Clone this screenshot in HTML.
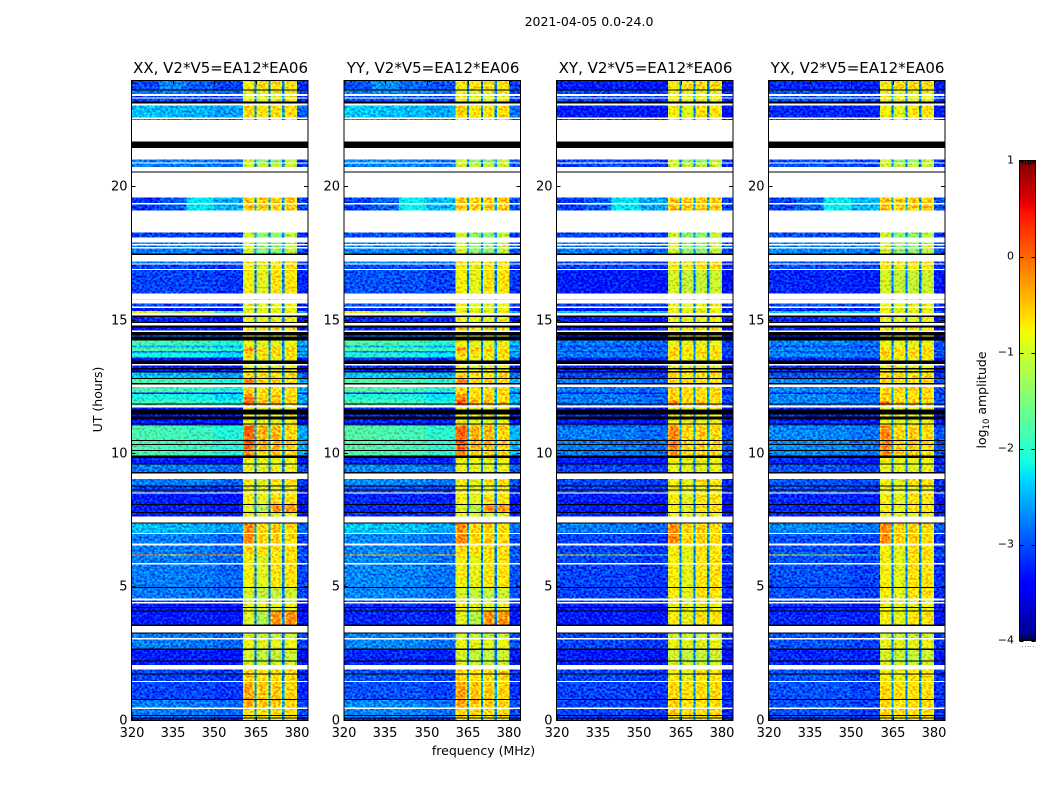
<!DOCTYPE html>
<html>
<head>
<meta charset="utf-8">
<title>2021-04-05 0.0-24.0</title>
<style>
html,body{margin:0;padding:0;background:#fff;}
svg{display:block;font-family:"DejaVu Sans","Liberation Sans",sans-serif;fill:#000;}
</style>
</head>
<body>
<svg id="chart" xmlns="http://www.w3.org/2000/svg" width="1050" height="800" viewBox="0 0 1050 800">
<defs>
<filter id="speckle" filterUnits="userSpaceOnUse" x="120" y="70" width="840" height="660" color-interpolation-filters="sRGB">
<feTurbulence type="fractalNoise" baseFrequency="0.38 0.46" numOctaves="1" seed="7" result="n"/>
<feColorMatrix in="n" type="matrix" values="0 0 0 0 0.5  3 0 0 0 -1  1.4 0 0 0 -0.2  0 0 0 0 1" result="m"/>
<feComposite in="SourceGraphic" in2="m" operator="arithmetic" k1="0" k2="1" k3="0.5" k4="-0.25" result="a"/>
<feComposite in="a" in2="SourceAlpha" operator="in"/>
</filter>
</defs>
<rect x="0" y="0" width="1050" height="800" fill="#fff"/>
<text x="589" y="26" font-size="12.5" text-anchor="middle">2021-04-05 0.0-24.0</text>
<text x="483.5" y="755" font-size="12.5" text-anchor="middle">frequency (MHz)</text>
<text transform="translate(102,399.5) rotate(-90)" font-size="12.5" text-anchor="middle">UT (hours)</text>
<text transform="translate(986,400) rotate(-90)" font-size="12.5" text-anchor="middle">log<tspan font-size="8.5" dy="3">10</tspan><tspan dy="-3"> amplitude</tspan></text>
<g id="panels"></g>
<g id="colorbar"></g>
</svg>
<script>
// ---------- data ----------
const panelNames = ['XX', 'YY', 'XY', 'YX'];
const panelBaseline = 'V2*V5=EA12*EA06';
const freqTicks = [320, 335, 350, 365, 380];
const utTicks = [0, 5, 10, 15, 20];
const colorbarTicks = [1, 0, -1, -2, -3, -4];

// frequency columns in MHz: start, end, level group, index inside group
const freqColumns = [
  [320, 330, 'low', 0], [330, 340, 'low', 1], [340, 350, 'low', 2], [350, 360.4, 'low', 3],
  [360.4, 361.2, 'edge', 0], [361.2, 363.9, 'win', 0], [363.9, 364.6, 'edge', 0], [364.6, 365.4, 'gap', 4],
  [365.4, 366.2, 'edge', 1], [366.2, 368.9, 'win', 1], [368.9, 369.6, 'edge', 1], [369.6, 370.4, 'gap', 4],
  [370.4, 371.2, 'edge', 2], [371.2, 373.9, 'win', 2], [373.9, 374.6, 'edge', 2], [374.6, 375.4, 'gap', 4],
  [375.4, 376.2, 'edge', 3], [376.2, 379.2, 'win', 3], [379.2, 380, 'edge', 3], [380, 384, 'low', 4]
];
// window edges sit this much below the window centre
const windowEdgeDrop = 0.22;

// log10 amplitude: 320-330, 330-340, 340-350, 350-360, 380-384
const lowLevels = {
  N: [-3.4, -3.4, -3.4, -3.4, -3.45],
  D: [-3.25, -3.28, -3.25, -3.3, -3.35],
  B: [-3.05, -3.05, -3.05, -3.12, -3.2],
  L: [-2.78, -2.78, -2.8, -2.88, -3.05],
  C: [-2.45, -2.5, -2.52, -2.62, -2.9],
  M: [-3.15, -2.95, -2.25, -2.55, -3.05],
  T: [-3.05, -2.75, -2.95, -3.05, -3.15],
  G: [-1.8, -1.85, -1.9, -2.05, -2.55],
  H: [-2.1, -2.1, -2.15, -2.3, -2.6],
  R: [-0.2, -0.5, -0.2, -0.3, -2.5],
  P: [-0.9, -1.4, -1.1, -1.9, -2.6],
  O: [-0.6, -0.6, -0.6, -0.6, -0.7],
  Q: [-2.2, -2.2, -2.2, -2.2, -2.3],
  S: [-2.4, -2.3, -2.3, -2.4, -3.0]
};

// log10 amplitude: window 1, window 2, window 3, window 4, gaps between windows
const windowLevels = {
  y: [-0.8, -0.85, -0.85, -0.8, -2.8],
  g: [-0.95, -1.05, -1.05, -1.0, -2.85],
  f: [-0.95, -1.35, -1.35, -1.05, -2.7],
  o: [-0.55, -0.62, -0.62, -0.6, -2.7],
  h: [-0.3, -0.48, -0.48, -0.55, -2.6],
  a: [-0.15, -0.55, -0.5, -0.6, -2.6],
  r: [0.08, -0.35, -0.4, -0.55, -2.5],
  s: [-0.9, -1.15, -0.2, -0.2, -2.8],
  b: [-0.45, -0.5, -0.5, -0.5, -2.6],
  n: [-0.75, -0.85, -0.65, -0.65, -2.8],
  t: [-0.72, -0.6, -0.6, -0.6, -2.8]
};

// top UT, bottom UT, low level XX/YY, low level XY/YX, window level XX/YY, window level XY/YX
const timeRows = [
  [24.0, 23.66, 'T', 'D', 't', 't'],
  [23.66, 23.5, 'L', 'B', 'y', 'y'],
  [23.41, 23.36, 'B', 'B', 'y', 'y'],
  [23.33, 23.2, 'B', 'B', 'y', 'y'],
  [23.06, 22.62, 'C', 'D', 'o', 'n'],
  [22.56, 22.52, 'L', 'B', 'y', 'y'],
  [21.04, 20.93, 'L', 'B', 'f', 'f'],
  [20.88, 20.76, 'L', 'B', 'g', 'g'],
  [19.61, 19.41, 'M', 'M', 'b', 'b'],
  [19.35, 19.13, 'M', 'M', 'b', 'b'],
  [18.3, 18.11, 'B', 'B', 'f', 'f'],
  [17.93, 17.86, 'L', 'L', 'f', 'f'],
  [17.81, 17.75, 'L', 'L', 'f', 'f'],
  [17.7, 17.52, 'L', 'L', 'f', 'f'],
  [17.21, 17.13, 'L', 'B', 'o', 'o'],
  [17.1, 16.94, 'B', 'B', 'n', 'n'],
  [16.9, 16.02, 'B', 'D', 'n', 'g'],
  [15.79, 15.76, 'O', 'Q', 'o', 'y'],
  [15.63, 15.53, 'B', 'B', 'y', 'y'],
  [15.46, 15.36, 'D', 'D', 'y', 'y'],
  [15.36, 15.29, 'P', 'S', 'y', 'y'],
  [15.18, 14.94, 'D', 'D', 'y', 'y'],
  [14.81, 14.62, 'D', 'D', 'o', 'o'],
  [14.56, 14.25, 'L', 'D', 'y', 'y'],
  [14.25, 14.06, 'G', 'L', 'y', 'y'],
  [14.06, 13.99, 'C', 'B', 'y', 'y'],
  [13.99, 13.85, 'G', 'L', 'a', 'o'],
  [13.85, 13.8, 'L', 'B', 'o', 'o'],
  [13.8, 13.62, 'H', 'L', 'o', 'o'],
  [13.62, 13.37, 'D', 'D', 'y', 'y'],
  [13.32, 13.05, 'D', 'D', 'y', 'y'],
  [13.05, 12.85, 'C', 'B', 'o', 'o'],
  [12.85, 12.65, 'G', 'L', 'a', 'o'],
  [12.5, 12.3, 'G', 'L', 'o', 'o'],
  [12.3, 12.24, 'D', 'D', 'o', 'o'],
  [12.24, 12.0, 'H', 'L', 'a', 'o'],
  [12.0, 11.81, 'G', 'L', 'r', 'a'],
  [11.74, 11.06, 'D', 'D', 'y', 'y'],
  [11.06, 10.58, 'G', 'L', 'r', 'a'],
  [10.58, 10.16, 'G', 'L', 'r', 'a'],
  [10.16, 9.94, 'G', 'L', 'a', 'a'],
  [9.94, 9.6, 'D', 'D', 'y', 'y'],
  [9.6, 9.31, 'L', 'B', 'y', 'y'],
  [9.05, 8.81, 'L', 'B', 'n', 'n'],
  [8.81, 8.55, 'B', 'B', 'y', 'y'],
  [8.51, 8.1, 'D', 'D', 'n', 'n'],
  [8.1, 7.78, 'D', 'D', 's', 'n'],
  [7.78, 7.65, 'D', 'D', 'y', 'y'],
  [7.4, 7.03, 'C', 'L', 'a', 'a'],
  [6.99, 6.63, 'L', 'B', 'a', 'a'],
  [6.57, 6.22, 'L', 'B', 'o', 'n'],
  [6.22, 6.19, 'R', 'P', 'n', 'n'],
  [6.19, 5.9, 'L', 'B', 'n', 'n'],
  [5.85, 5.0, 'L', 'B', 'n', 'n'],
  [5.0, 4.58, 'L', 'B', 'g', 'n'],
  [4.5, 4.44, 'B', 'B', 'g', 'g'],
  [4.39, 4.1, 'D', 'D', 'y', 'y'],
  [4.1, 3.55, 'D', 'D', 's', 'n'],
  [3.3, 3.1, 'L', 'B', 'g', 'g'],
  [3.03, 2.65, 'L', 'B', 'y', 'y'],
  [2.65, 2.09, 'D', 'D', 'g', 'g'],
  [1.91, 1.49, 'B', 'B', 'o', 'n'],
  [1.45, 0.79, 'B', 'B', 'h', 'o'],
  [0.79, 0.48, 'L', 'B', 'h', 'o'],
  [0.44, 0.09, 'L', 'B', 'o', 'o'],
  [0.09, 0.0, 'D', 'D', 'y', 'y']
];

// flagged integrations drawn black: top UT, bottom UT
const blackRows = [
  [23.67, 23.64], [23.21, 23.14], [21.72, 21.46], [20.59, 20.56], [17.52, 17.46],
  [15.18, 15.13], [14.95, 14.93], [14.81, 14.74], [14.56, 14.43], [14.4, 14.25],
  [13.5, 13.37], [13.21, 13.16], [13.11, 13.05], [12.85, 12.81], [12.65, 12.6],
  [11.89, 11.86], [11.66, 11.48], [11.4, 11.29], [11.14, 11.1], [10.52, 10.48],
  [10.37, 10.33], [10.14, 10.1], [9.94, 9.84], [9.64, 9.6], [9.31, 9.27],
  [8.81, 8.78], [8.66, 8.63], [8.12, 8.1], [7.81, 7.78], [7.42, 7.38],
  [5.0, 4.97], [4.25, 4.22], [4.13, 4.1], [3.6, 3.55], [3.3, 3.26],
  [2.7, 2.65], [2.25, 2.22], [1.77, 1.75], [0.81, 0.79], [0.21, 0.18], [0.12, 0.09]
];

// small per-panel shift of the low band level
const panelLowShift = [0, 0.06, 0, 0.06];
const colorMin = -4;
const colorMax = 1;

// ---------- layout ----------
const NS = 'http://www.w3.org/2000/svg';
const panelLefts = [131.5, 344, 556.5, 768.5];
const panelWidth = 176.5;
const plotTop = 80.5;
const plotBottom = 720.5;
const utMax = 24;
const freqMin = 320;
const freqMax = 384;
const cbLeft = 1019.5, cbRight = 1035.5, cbTop = 160.5, cbBottom = 640.5;

function xScale(panel, f) {
  return panelLefts[panel] + (f - freqMin) / (freqMax - freqMin) * panelWidth;
}
function yScale(ut) {
  return plotBottom - ut / utMax * (plotBottom - plotTop);
}
function cbScale(v) {
  return cbBottom - (v - colorMin) / (colorMax - colorMin) * (cbBottom - cbTop);
}
function interp(stops, t) {
  for (let i = 1; i < stops.length; i++) {
    if (t <= stops[i][0]) {
      const a = stops[i - 1], b = stops[i];
      return a[1] + (b[1] - a[1]) * (t - a[0]) / (b[0] - a[0]);
    }
  }
  return stops[stops.length - 1][1];
}
const jetR = [[0, 0], [0.35, 0], [0.66, 1], [0.89, 1], [1, 0.5]];
const jetG = [[0, 0], [0.125, 0], [0.375, 1], [0.64, 1], [0.91, 0], [1, 0]];
const jetB = [[0, 0.5], [0.11, 1], [0.34, 1], [0.65, 0], [1, 0]];
function jet(v) {
  const t = Math.max(0, Math.min(1, (v - colorMin) / (colorMax - colorMin)));
  const c = s => Math.round(255 * interp(s, t));
  return 'rgb(' + c(jetR) + ',' + c(jetG) + ',' + c(jetB) + ')';
}
function make(tag, attrs, parent) {
  const el = document.createElementNS(NS, tag);
  for (const k in attrs) el.setAttribute(k, attrs[k]);
  parent.appendChild(el);
  return el;
}
function columnLevel(col, low, win) {
  if (col[2] === 'low') return low[col[3]];
  if (col[2] === 'edge') return win[col[3]] - windowEdgeDrop;
  return win[col[3]];
}

// ---------- panels ----------
const panelsRoot = document.getElementById('panels');
panelNames.forEach(function (name, p) {
  const crossHand = p >= 2;
  const g = make('g', {}, panelsRoot);
  
  

  const cells = make('g', { 'shape-rendering': 'crispEdges', filter: 'url(#speckle)' }, g);
  
  

  timeRows.forEach(function (row) {
    const low = lowLevels[crossHand ? row[3] : row[2]];
    const win = windowLevels[crossHand ? row[5] : row[4]];
    freqColumns.forEach(function (col) {
      let v = columnLevel(col, low, win);
      if (col[2] === 'low') v += panelLowShift[p];
      const x0 = xScale(p, col[0]);
      const x1 = xScale(p, col[1]);
      const cell = make('rect', {
        x: x0, y: yScale(row[0]), width: x1 - x0,
        height: Math.max(0.8, yScale(row[1]) - yScale(row[0])), fill: jet(v)
      }, cells);
      
      
    });
  });

  const flagged = make('g', { 'shape-rendering': 'crispEdges' }, g);
  
  
  blackRows.forEach(function (b) {
    const bar = make('rect', {
      x: xScale(p, freqMin), y: yScale(b[0]),
      width: panelWidth, height: Math.max(1, yScale(b[1]) - yScale(b[0])), fill: '#000'
    }, flagged);
    
    
  });

  const left = xScale(p, freqMin), right = xScale(p, freqMax);
  const frame = make('rect', {
    x: left, y: plotTop, width: right - left, height: plotBottom - plotTop,
    fill: 'none', stroke: '#000', 'stroke-width': 1, 'shape-rendering': 'crispEdges'
  }, g);
  
  

  const title = make('text', {
    x: (left + right) / 2 + 0.8, y: 73, 'font-size': 15, 'text-anchor': 'middle'
  }, g);
  title.textContent = name + ', ' + panelBaseline;
  
  

  freqTicks.forEach(function (f) {
    const x = Math.round(xScale(p, f)) + 0.5;
    [[plotBottom, plotBottom - 4], [plotTop, plotTop + 4]].forEach(function (s) {
      const t = make('line', { x1: x, x2: x, y1: s[0], y2: s[1], stroke: '#000', 'stroke-width': 1 }, g);
      
      
    });
    const lab = make('text', { x: x - 0.5, y: 737, 'font-size': 13, 'text-anchor': 'middle' }, g);
    lab.textContent = f;
    
    
  });

  utTicks.forEach(function (u) {
    const y = Math.round(yScale(u)) + 0.5;
    [[left, left + 4], [right, right - 4]].forEach(function (s) {
      const t = make('line', { x1: s[0], x2: s[1], y1: y - 1, y2: y - 1, stroke: '#000', 'stroke-width': 1 }, g);
      
      
    });
    const lab = make('text', { x: left - 4, y: y + 3, 'font-size': 13, 'text-anchor': 'end' }, g);
    lab.textContent = u;
    
    
  });
});

// ---------- colorbar ----------
const cbRoot = document.getElementById('colorbar');
const cbSteps = 240;
for (let i = 0; i < cbSteps; i++) {
  const v0 = colorMin + (colorMax - colorMin) * i / cbSteps;
  const v1 = colorMin + (colorMax - colorMin) * (i + 1) / cbSteps;
  const s = make('rect', {
    x: cbLeft, y: cbScale(v1), width: cbRight - cbLeft,
    height: cbScale(v0) - cbScale(v1) + 0.5, fill: jet((v0 + v1) / 2),
    'shape-rendering': 'crispEdges'
  }, cbRoot);
  
  
}
const cbFrame = make('rect', {
  x: cbLeft, y: cbTop, width: cbRight - cbLeft, height: cbBottom - cbTop,
  fill: 'none', stroke: '#000', 'stroke-width': 1, 'shape-rendering': 'crispEdges'
}, cbRoot);



colorbarTicks.forEach(function (v) {
  const y = Math.round(cbScale(v)) + 0.5;
  [[cbLeft, cbLeft + 4], [cbRight, cbRight - 4]].forEach(function (s) {
    const t = make('line', { x1: s[0], x2: s[1], y1: y, y2: y, stroke: '#000', 'stroke-width': 1 }, cbRoot);
    
    
  });
  const lab = make('text', { x: 1014, y: y + 2, 'font-size': 11, 'text-anchor': 'end' }, cbRoot);
  lab.textContent = String(v).replace('-', '\u2212');
  
  
});

for (let i = 1; i < 6; i++) {
  const x = Math.round(cbLeft + (cbRight - cbLeft) * i / 6) + 0.5;
  [[cbTop, cbTop + 4], [cbBottom, cbBottom - 4]].forEach(function (s) {
    const t = make('line', { x1: x, x2: x, y1: s[0], y2: s[1], stroke: '#000', 'stroke-width': 1 }, cbRoot);
    
    
  });
  const d = make('rect', { x: x - 0.5, y: 646, width: 1, height: 1, fill: '#999' }, cbRoot);
  
  
}
</script>
</body>
</html>
